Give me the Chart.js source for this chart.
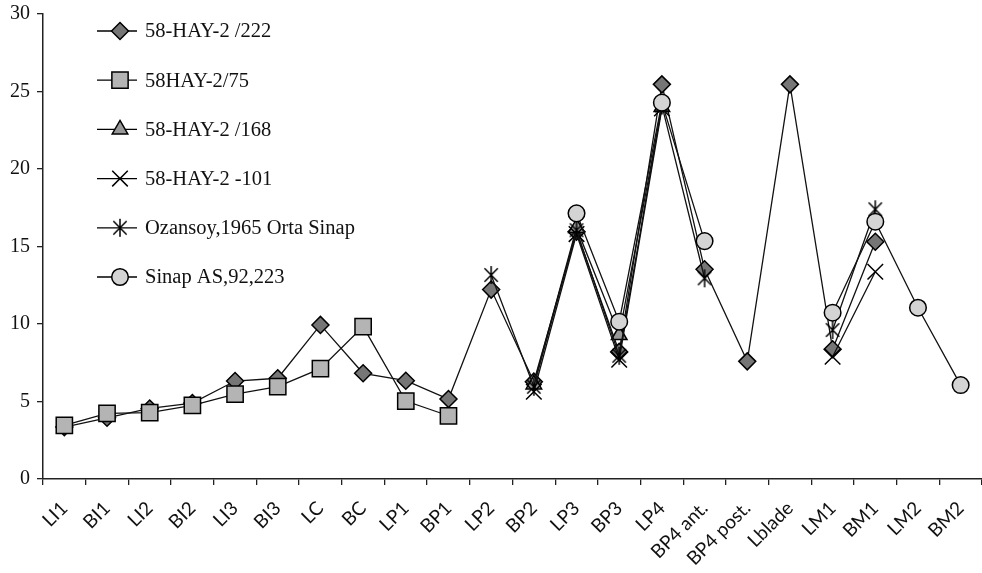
<!DOCTYPE html>
<html lang="en">
<head>
<meta charset="UTF-8" />
<title>Tooth measurements</title>
<script src="https://cdn.jsdelivr.net/npm/chart.js@4/dist/chart.umd.min.js"></script>
<style>
  html, body { margin: 0; padding: 0; background: #fff; overflow: hidden; }
  #wrap { position: relative; width: 982px; height: 573px; }
</style>
</head>
<body>
<div id="wrap"><canvas id="toothChart"></canvas></div>
<script>
// categories along x
const categories = ["LI1", "BI1", "LI2", "BI2", "LI3", "BI3", "LC", "BC", "LP1", "BP1", "LP2", "BP2",
  "LP3", "BP3", "LP4", "BP4 ant.", "BP4 post.", "Lblade", "LM1", "BM1", "LM2", "BM2"];

const hay222 = [3.35, 3.95, 4.55, 4.9, 6.32, 6.5, 9.94, 6.82, 6.34, 5.16, 12.22, 6.28,
  15.95, 8.2, 25.46, 13.53, 7.59, 25.46, 8.37, 15.31, null, null];
const hay75 = [3.46, 4.24, 4.28, 4.75, 5.48, 5.96, 7.12, 9.83, 5.03, 4.08, null, null,
  null, null, null, null, null, null, null, null, null, null];
const hay168 = [null, null, null, null, null, null, null, null, null, null, null, 6.1,
  16.2, 9.29, 24.0, null, null, null, null, null, null, null];
const hay101 = [null, null, null, null, null, null, null, null, null, null, null, 5.63,
  15.8, 7.7, 23.9, null, null, null, 7.89, 13.37, null, null];
const ozansoy = [null, null, null, null, null, null, null, null, null, null, 13.16, 5.95,
  16.05, 7.95, 24.1, 12.95, null, null, 9.61, 17.4, null, null];
const sinap = [null, null, null, null, null, null, null, null, null, null, null, null,
  17.14, 10.15, 24.28, 15.35, null, null, 10.73, 16.6, 11.05, 6.06];

const yTicks = { min: 0, max: 30, step: 5 };

// asterisk marker (X with a vertical bar)
function makeAsterisk(size) {
  const c = document.createElement("canvas");
  c.width = size; c.height = size;
  const g = c.getContext("2d");
  const m = size / 2, r = size / 2 - 1, d = r * 0.74;
  g.strokeStyle = "#000";
  g.lineWidth = 1.5;
  g.beginPath();
  g.moveTo(m, m - r); g.lineTo(m, m + r);
  g.moveTo(m - d, m - d); g.lineTo(m + d, m + d);
  g.moveTo(m + d, m - d); g.lineTo(m - d, m + d);
  g.stroke();
  return c;
}
const asterisk = makeAsterisk(20);

const series = [
  { label: "58-HAY-2 /222", data: hay222, style: "rectRot", radius: 8.5, fill: "#767676", order: 5 },
  { label: "58HAY-2/75", data: hay75, style: "rect", radius: 11.5, fill: "#b4b4b4", order: 4 },
  { label: "58-HAY-2 /168", data: hay168, style: "triangle", radius: 9, fill: "#989898", order: 3 },
  { label: "58-HAY-2 -101", data: hay101, style: "crossRot", radius: 11, fill: "#000", order: 2 },
  { label: "Ozansoy,1965 Orta Sinap", data: ozansoy, style: asterisk, radius: 10, fill: "#000", order: 1 },
  { label: "Sinap AS,92,223", data: sinap, style: "circle", radius: 8.3, fill: "#d4d4d4", order: 0 }
];

// legend drawn inside the plot, top-left
const insideLegend = {
  id: "insideLegend",
  afterDraw(chart) {
    const ctx = chart.ctx;
    ctx.save();
    series.forEach((s, i) => {
      const y = 31 + i * 49.2;
      ctx.strokeStyle = "#000";
      ctx.lineWidth = 1.3;
      ctx.beginPath();
      ctx.moveTo(97, y);
      ctx.lineTo(137, y);
      ctx.stroke();
      ctx.fillStyle = s.fill;
      ctx.strokeStyle = "#000";
      ctx.lineWidth = 1.5;
      Chart.helpers.drawPoint(ctx, { pointStyle: s.style, radius: s.radius, rotation: 0, borderWidth: 1.5 }, 120, y);
      ctx.fillStyle = "#111";
      ctx.font = "20.5px 'Liberation Serif'";
      ctx.textAlign = "left";
      ctx.textBaseline = "middle";
      ctx.fillText(s.label, 145, y + 1);
    });
    ctx.restore();
  }
};

new Chart(document.getElementById("toothChart"), {
  type: "line",
  data: {
    labels: categories,
    datasets: series.map(s => ({
      label: s.label,
      data: s.data,
      order: s.order,
      borderColor: "#111",
      borderWidth: 1.3,
      pointStyle: s.style,
      pointRadius: s.radius,
      pointBackgroundColor: s.fill,
      pointBorderColor: "#000",
      pointBorderWidth: 1.5,
      spanGaps: false,
      tension: 0,
      fill: false,
      clip: false
    }))
  },
  options: {
    responsive: true,
    maintainAspectRatio: false,
    animation: false,
    devicePixelRatio: 1,
    layout: { autoPadding: false, padding: { top: 14, right: 0, left: 0, bottom: 0 } },
    plugins: {
      legend: { display: false },
      tooltip: { enabled: false }
    },
    scales: {
      x: {
        type: "category",
        offset: true,
        grid: { offset: true, drawOnChartArea: false, drawTicks: true, tickLength: 6, color: "#222", lineWidth: 1.3 },
        border: { color: "#222", width: 1.5 },
        ticks: {
          maxRotation: 45, minRotation: 45, autoSkip: false, padding: 12,
          color: "#111",
          font: { family: "Lato", size: 19 }
        },
        afterFit(scale) {
          scale.height = 94;
          scale.paddingLeft = 0;
          scale.paddingRight = 0;
        }
      },
      y: {
        min: yTicks.min, max: yTicks.max,
        grid: { drawOnChartArea: false, drawTicks: true, tickLength: 6, color: "#222", lineWidth: 1.3 },
        border: { color: "#222", width: 1.5 },
        ticks: {
          stepSize: yTicks.step, padding: 7,
          color: "#111",
          font: { family: "Liberation Serif", size: 20 }
        },
        afterFit(scale) {
          scale.width = 43;
          scale.paddingTop = 0;
          scale.paddingBottom = 0;
        }
      }
    }
  },
  plugins: [insideLegend]
});
</script>
</body>
</html>
